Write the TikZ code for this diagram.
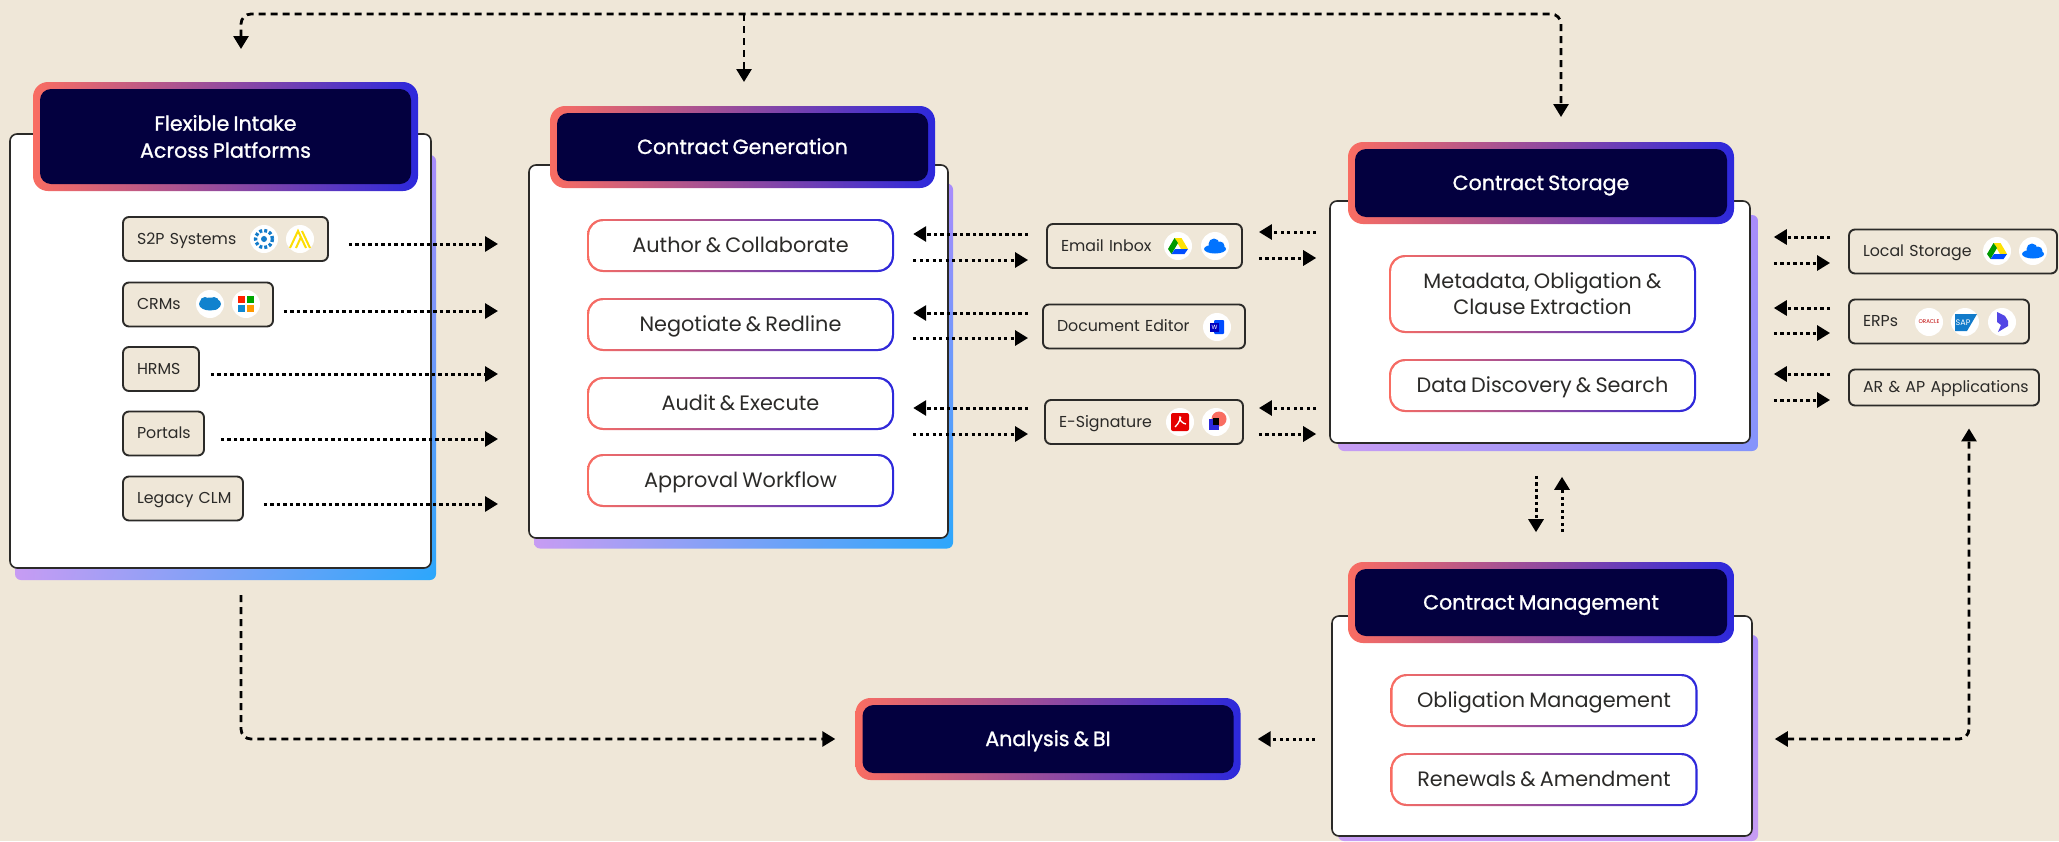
\documentclass[tikz,border=0pt]{standalone}
\usepackage{fontspec}
\setmainfont[WordSpace=0.75]{Poppins}
\usetikzlibrary{arrows.meta,shadings}
\definecolor{paper}{HTML}{EFE7D8}
\definecolor{ink}{HTML}{2B2A28}
\definecolor{navy}{HTML}{03003F}
\definecolor{salmon}{HTML}{F96D62}
\definecolor{indigo}{HTML}{2C28DC}
\definecolor{plum}{HTML}{8A459F}
\definecolor{lilac}{HTML}{C79CF3}
\definecolor{violet}{HTML}{A98CFB}
\definecolor{sky}{HTML}{2BA7FB}
\tikzset{
  panel/.style={draw=ink, line width=1.6pt, fill=white, rounded corners=7pt, inner sep=0pt},
  glow/.style={rounded corners=6pt, inner sep=0pt, upper left=lilac, lower left=lilac,
    upper right=violet, lower right=#1},
  glow/.default=sky,
  headbar/.style={rounded corners=15pt, inner sep=0pt, text=white, align=center,
    font=\fontsize{20.6}{27}\selectfont\addfontfeature{FakeBold=1.1},
    path picture={
      \shade[left color=salmon, middle color=plum, right color=indigo]
        (path picture bounding box.south west) rectangle (path picture bounding box.north east);
      \fill[navy, rounded corners=11pt]
        ([shift={(7pt,7pt)}]path picture bounding box.south west) rectangle
        ([shift={(-7pt,-7pt)}]path picture bounding box.north east);}},
  headrow/.style={headbar, text height=15pt, text depth=1pt},
  pill/.style={rounded corners=16pt, inner sep=0pt, text=ink, align=center,
    minimum width=307pt, font=\fontsize{20.8}{26}\selectfont,
    path picture={
      \shade[left color=salmon, middle color=plum, right color=indigo]
        (path picture bounding box.south west) rectangle (path picture bounding box.north east);
      \fill[white, rounded corners=14pt]
        ([shift={(2.2pt,2.2pt)}]path picture bounding box.south west) rectangle
        ([shift={(-2.2pt,-2.2pt)}]path picture bounding box.north east);}},
  pillrow/.style={pill, minimum height=53pt, text height=15pt, text depth=1pt},
  tool/.style={draw=ink, line width=1.9pt, fill=paper, rounded corners=6pt, inner sep=0pt,
    minimum height=44pt, text=ink, font=\fontsize{15.8}{19}\selectfont, align=left,
    text height=11.5pt, text depth=1pt},
  badge/.style={circle, fill=white, minimum size=28pt, inner sep=0pt},
  dotflow/.style={draw=black, line width=3pt, dash pattern=on 3.2pt off 3.3pt,
    -{Triangle[width=15pt,length=13pt]}},
  dashflow/.style={draw=black, line width=2.8pt, dash pattern=on 7pt off 5pt, rounded corners=10pt,
    -{Triangle[width=15pt,length=13pt]}},
  both/.style={{Triangle[width=15pt,length=13pt]}-{Triangle[width=15pt,length=13pt]}},
  pics/drive/.style={code={
    \fill[yellow!85!orange] (-3.5,-8) -- (3.5,-8) -- (10,3) -- (3,3) -- cycle;
    \fill[green!60!black] (-3.5,-8) -- (-10,3) -- (-6.5,8) -- (0,-3) -- cycle;
    \fill[blue!70!cyan] (-6.5,8) -- (6.5,8) -- (10,3) -- (-3,3) -- cycle;}},
  pics/cloud/.style={code={
    \fill[blue!55!cyan] (0,3) ellipse (11 and 4.5);
    \fill[blue!55!cyan] (-1,-2) circle (5.5) (5,0) circle (4.5);}},
  pics/spark/.style={code={
    \draw[cyan!60!blue, line width=3.4pt, dash pattern=on 3pt off 2pt] (0,0) circle (8.5);
    \fill[cyan!60!blue] (0,0) circle (3);}},
  pics/peaks/.style={code={
    \draw[yellow!80!orange, line width=2pt] (-10,9) -- (-2,-8) -- (6,9);
    \draw[yellow!80!orange, line width=2pt] (-4,9) -- (1,-2) (2,-8) -- (10,9);}},
  pics/sforce/.style={code={
    \fill[cyan!65!blue] (0,0) ellipse (11 and 6.5);
    \fill[cyan!65!blue] (-5,-2) circle (5) (4,-2) circle (5) (5,2) circle (4);}},
  pics/msquares/.style={code={
    \fill[red!75!orange] (-8,-8) rectangle (-0.7,-0.7);
    \fill[green!65!black] (0.7,-8) rectangle (8,-0.7);
    \fill[cyan!70!blue] (-8,0.7) rectangle (-0.7,8);
    \fill[orange!80!yellow] (0.7,0.7) rectangle (8,8);}},
  pics/word/.style={code={
    \fill[blue!70!cyan, rounded corners=1pt] (-3,-7) rectangle (7,7);
    \fill[blue!75!black] (-7,-4.5) rectangle (2,4.5);
    \node[text=white, inner sep=0pt, font=\fontsize{6}{6}\selectfont] (wordmark) at (-2.5,0) {W};}},
  pics/pdf/.style={code={
    \fill[red!90!black, rounded corners=2pt] (-9,-9) rectangle (9,9);
    \draw[white, line width=1.3pt] (-5,5) .. controls (-1,2) and (2,-7) .. (0,-5)
      .. controls (-2,-3) and (3,2) .. (6,2);}},
  pics/stamp/.style={code={
    \fill[salmon] (3,-3) circle (7.5);
    \fill[indigo] (-7,-3) rectangle (3,8);
    \fill[black] (-3.5,-4) rectangle (3,3);}},
  pics/dynamics/.style={code={
    \fill[indigo!70!violet] (-5,-10) -- (3,-6) -- (6,-1) -- (6,4) -- (-4,10) -- (-1,3) -- (-5,0) -- cycle;}}
}
\begin{document}
\begin{tikzpicture}[x=1pt,y=-1pt]
  \path[use as bounding box, fill=paper] (0,0) rectangle (2059,841);
  % intake column
  \node[glow, minimum width=421pt, minimum height=425pt] (intakeglow) at (225.5,367.5) {};
  \node[panel, minimum width=421pt, minimum height=434pt] (intake) at (220.5,351) {};
  \node[headbar, minimum width=385pt, minimum height=109pt] (intakehead) at (225.5,136.5) {Flexible Intake\\Across Platforms};
  \node[tool, minimum width=205pt, text width=177pt] (s2p) at (225.5,239) {S2P Systems};
  \node[tool, minimum width=150pt, text width=122pt] (crms) at (198,304.5) {CRMs};
  \node[tool, minimum width=76pt, text width=48pt] (hrms) at (161,369) {HRMS};
  \node[tool, minimum width=81pt, text width=53pt] (portals) at (163.5,433.5) {Portals};
  \node[tool, minimum width=120pt, text width=92pt] (legacy) at (183,498.5) {\mbox{Legacy CLM}};
  \node[badge] (jaggaer) at (264,239) {};
  \pic at (jaggaer) {spark};
  \node[badge] (peak) at (300,239) {};
  \pic at (peak) {peaks};
  \node[badge] (salesforce) at (210,304) {};
  \pic at (salesforce) {sforce};
  \node[badge] (microsoft) at (246,304) {};
  \pic at (microsoft) {msquares};
  % generation column
  \node[glow, minimum width=419pt, minimum height=365pt] (generationglow) at (743.5,366) {};
  \node[panel, minimum width=419pt, minimum height=373pt] (generation) at (738.5,351.5) {};
  \node[headrow, minimum width=385pt, minimum height=82pt] (generationhead) at (742.5,147) {Contract Generation};
  \node[pillrow] (author) at (740.5,245.5) {Author \& Collaborate};
  \node[pillrow] (negotiate) at (740.5,324.5) {Negotiate \& Redline};
  \node[pillrow] (audit) at (740.5,403.5) {Audit \& Execute};
  \node[pillrow] (approval) at (740.5,480.5) {Approval Workflow};
  % tools between generation and storage
  \node[tool, minimum width=195pt, text width=167pt] (email) at (1144.5,246) {Email Inbox};
  \node[tool, minimum width=202pt, text width=174pt] (docedit) at (1144,326.5) {Document Editor};
  \node[tool, minimum width=198pt, text width=170pt] (esign) at (1144,422) {E-Signature};
  \node[badge] (gdrive) at (1178,246) {};
  \pic at (gdrive) {drive};
  \node[badge] (onedrive) at (1215,246) {};
  \pic at (onedrive) {cloud};
  \node[badge] (msword) at (1217,327) {};
  \pic at (msword) {word};
  \node[badge] (acrobat) at (1180,422) {};
  \pic at (acrobat) {pdf};
  \node[badge] (signer) at (1216,422) {};
  \pic at (signer) {stamp};
  % storage column
  \node[glow=violet!70!sky, minimum width=420pt, minimum height=236pt] (storageglow) at (1548,333) {};
  \node[panel, minimum width=420pt, minimum height=242pt] (storage) at (1540,322) {};
  \node[headrow, minimum width=386pt, minimum height=82pt] (storagehead) at (1541,183) {Contract Storage};
  \node[pill, minimum height=78pt] (metadata) at (1542.5,294) {Metadata, Obligation \&\\Clause Extraction};
  \node[pillrow] (discovery) at (1542.5,385.5) {Data Discovery \& Search};
  % tools right of storage
  \node[tool, minimum width=208pt, text width=180pt] (local) at (1953,251.5) {Local Storage};
  \node[tool, minimum width=180pt, text width=152pt] (erps) at (1939,321.5) {ERPs};
  \node[tool, minimum width=190pt, minimum height=36pt, text width=162pt] (arap) at (1944,387.5) {\mbox{AR \& AP Applications}};
  \node[badge] (gdrivetwo) at (1997,251) {};
  \pic at (gdrivetwo) {drive};
  \node[badge] (onedrivetwo) at (2033,251) {};
  \pic at (onedrivetwo) {cloud};
  \node[badge, text=red!75!black, font=\fontsize{5.5}{6}\selectfont] (oracle) at (1929,322) {ORACLE};
  \node[badge] (sap) at (1965,322) {};
  \fill[cyan!60!blue] (1955,314) -- (1977,314) -- (1967,331) -- (1955,331) -- cycle;
  \node[text=white, inner sep=0pt, font=\fontsize{8}{8}\selectfont] (saplabel) at (1963,322.5) {SAP};
  \node[badge] (dynamicsbadge) at (2002,322) {};
  \pic at (dynamicsbadge) {dynamics};
  % management column
  \node[glow=lilac, minimum width=420pt, minimum height=206pt] (managementglow) at (1548,738) {};
  \node[panel, minimum width=420pt, minimum height=220pt] (management) at (1542,726) {};
  \node[headrow, minimum width=386pt, minimum height=81pt] (managementhead) at (1541,602.5) {Contract Management};
  \node[pillrow] (obligation) at (1544,700.5) {Obligation Management};
  \node[pillrow] (renewals) at (1544,779.5) {Renewals \& Amendment};
  \node[headrow, minimum width=385pt, minimum height=82pt] (analysis) at (1048,739) {Analysis \& BI};
  % flows
  \coordinate (intakestop) at (498,0);
  \draw[dotflow] ([shift={(20,5)}]s2p.east) -- ([shift={(0,5)}]s2p.east -| intakestop);
  \draw[dotflow] ([shift={(10,6.5)}]crms.east) -- ([shift={(0,6.5)}]crms.east -| intakestop);
  \draw[dotflow] ([shift={(11,5)}]hrms.east) -- ([shift={(0,5)}]hrms.east -| intakestop);
  \draw[dotflow] ([shift={(16,5.5)}]portals.east) -- ([shift={(0,5.5)}]portals.east -| intakestop);
  \draw[dotflow] ([shift={(20,5.5)}]legacy.east) -- ([shift={(0,5.5)}]legacy.east -| intakestop);
  \draw[dotflow] ([shift={(-18,-12)}]email.west) -- ([shift={(19,-12)}]email.west -| author.east);
  \draw[dotflow] ([shift={(19,14)}]email.west -| author.east) -- ([shift={(-18,14)}]email.west);
  \draw[dotflow] ([shift={(-14,-13.5)}]docedit.west) -- ([shift={(19,-13.5)}]docedit.west -| negotiate.east);
  \draw[dotflow] ([shift={(19,11.5)}]docedit.west -| negotiate.east) -- ([shift={(-14,11.5)}]docedit.west);
  \draw[dotflow] ([shift={(-16,-14)}]esign.west) -- ([shift={(19,-14)}]esign.west -| audit.east);
  \draw[dotflow] ([shift={(19,12)}]esign.west -| audit.east) -- ([shift={(-16,12)}]esign.west);
  \draw[dotflow] ([shift={(-13,-14)}]email.east -| storage.west) -- ([shift={(16,-14)}]email.east);
  \draw[dotflow] ([shift={(16,12)}]email.east) -- ([shift={(-13,12)}]email.east -| storage.west);
  \draw[dotflow] ([shift={(-13,-14)}]esign.east -| storage.west) -- ([shift={(15,-14)}]esign.east);
  \draw[dotflow] ([shift={(15,12)}]esign.east) -- ([shift={(-13,12)}]esign.east -| storage.west);
  \draw[dotflow] ([shift={(-18,-14.5)}]local.west) -- ([shift={(23,-14.5)}]local.west -| storage.east);
  \draw[dotflow] ([shift={(23,11.5)}]local.west -| storage.east) -- ([shift={(-18,11.5)}]local.west);
  \draw[dotflow] ([shift={(-18,-13.5)}]erps.west) -- ([shift={(23,-13.5)}]erps.west -| storage.east);
  \draw[dotflow] ([shift={(23,11.5)}]erps.west -| storage.east) -- ([shift={(-18,11.5)}]erps.west);
  \draw[dotflow] ([shift={(-18,-13.5)}]arap.west) -- ([shift={(23,-13.5)}]arap.west -| storage.east);
  \draw[dotflow] ([shift={(23,12.5)}]arap.west -| storage.east) -- ([shift={(-18,12.5)}]arap.west);
  \draw[dotflow] ([shift={(-6,32)}]storage.south -| management.north) -- ([shift={(-6,-83)}]management.north);
  \draw[dotflow] ([shift={(20,-83)}]management.north) -- ([shift={(20,33)}]storage.south -| management.north);
  \draw[dotflow] ([shift={(-16,0)}]analysis.east -| management.west) -- ([shift={(17,0)}]analysis.east);
  % dashed rails
  \coordinate (railleft) at (241,49);
  \coordinate (railright) at (1561,117);
  \coordinate (railmid) at (744,14);
  \coordinate (railend) at (744,82);
  \coordinate (biout) at (241,595);
  \draw[dashflow, both] (railleft) |- (railmid) -| (railright);
  \draw[dashflow] (railmid) -- (railend);
  \draw[dashflow] (biout) |- ([shift={(-20,0)}]analysis.west);
  \draw[dashflow, both] ([shift={(22,0)}]analysis.east -| management.east) -| ([shift={(25,22)}]arap.south);
\end{tikzpicture}
\end{document}
